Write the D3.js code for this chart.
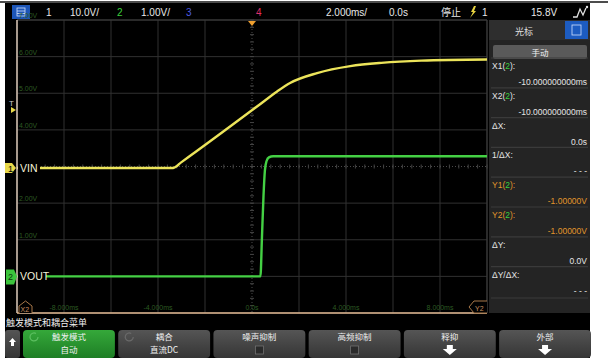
<!DOCTYPE html>
<html>
<head>
<meta charset="utf-8">
<script src="https://cdn.jsdelivr.net/npm/d3@7"></script>
<style>
  body { margin: 0; background: #fff; }
  svg { display: block; }
  text { font-family: "Liberation Sans", "DejaVu Sans", sans-serif; }
  .cjk { font-family: "Noto Sans CJK SC", sans-serif; }
</style>
</head>
<body>
<svg id="chart" width="610" height="358"></svg>
<script>
// channel 1 (VIN), time in ms, volts
const vinTime = [-10, -3.35, -3.0, 0.3, 1.07, 1.62, 2.77, 4.18, 5.5, 7.2, 10];
const vinVolt = [0, 0, 1.6, 17.2, 20.9, 23.2, 25.9, 27.8, 28.7, 29.3, 29.6];
// channel 2 (VOUT)
const voutTime = [-10, 0.36, 0.42, 0.49, 0.55, 0.62, 0.72, 0.9, 10];
const voutVolt = [0, 0, 1.0, 2.2, 2.9, 3.15, 3.25, 3.28, 3.28];

const timeTicks = [-8, -4, 0, 4, 8];
const timeTickLabels = ["-8.000ms", "-4.000ms", "0.0s", "4.000ms", "8.000ms"];
const voltTicks = [7, 6, 5, 4, 2, 1];
const voltTickLabels = ["7.00V", "6.00V", "5.00V", "4.00V", "2.00V", "1.00V"];

const cursorLabels = ["X1(2):", "X2(2):", "ΔX:", "1/ΔX:", "Y1(2):", "Y2(2):", "ΔY:", "ΔY/ΔX:"];
const cursorValues = ["-10.000000000ms", "-10.000000000ms", "0.0s", "- - -", "-1.00000V", "-1.00000V", "0.0V", "- - -"];

const menuTitles = ["触发模式", "耦合", "噪声抑制", "高频抑制", "释抑", "外部"];
const menuSubs = ["自动", "直流DC", "box", "box", "arrow", "arrow"];

const svg = d3.select('#chart');

// scope frame
svg.append('line').attr('x1', 0).attr('x2', 608).attr('y1', 2).attr('y2', 2)
  .attr('stroke', '#111').attr('stroke-width', 1.5);
svg.append('rect').attr('x', 5).attr('y', 3).attr('width', 585).attr('height', 355).attr('fill', '#000');

// scales
const x = d3.scaleLinear().domain([-10, 10]).range([17, 487]);
const y1 = d3.scaleLinear().domain([-39.6, 40.4]).range([313, 20]);
const y2 = d3.scaleLinear().domain([-1, 7]).range([313, 20]);

// ---- top status bar
const topBar = svg.append('g');
topBar.append('rect').attr('x', 12).attr('y', 5).attr('width', 18).attr('height', 14).attr('fill', '#1d56b8');
topBar.append('rect').attr('x', 17).attr('y', 8).attr('width', 8).attr('height', 8)
  .attr('fill', 'none').attr('stroke', '#cfe0ff').attr('stroke-width', 0.8);
topBar.append('line').attr('x1', 17).attr('x2', 25).attr('y1', 11).attr('y2', 11).attr('stroke', '#cfe0ff').attr('stroke-width', 0.8);
topBar.append('line').attr('x1', 17).attr('x2', 25).attr('y1', 13.5).attr('y2', 13.5).attr('stroke', '#cfe0ff').attr('stroke-width', 0.8);

const topItems = [
  { t: '1', x: 46, c: '#e8e8e8' },
  { t: '10.0V/', x: 70, c: '#e8e8e8' },
  { t: '2', x: 117, c: '#3cd03c' },
  { t: '1.00V/', x: 141, c: '#e8e8e8' },
  { t: '3', x: 186, c: '#4c5ce0' },
  { t: '4', x: 256, c: '#e0306a' },
  { t: '2.000ms/', x: 326, c: '#e8e8e8' },
  { t: '0.0s', x: 389, c: '#e8e8e8' },
  { t: '1', x: 482, c: '#e8e8e8' },
  { t: '15.8V', x: 531, c: '#e8e8e8' },
];
topBar.selectAll('text.item').data(topItems).join('text')
  .attr('class', 'item')
  .attr('x', (d) => d.x).attr('y', 16)
  .attr('font-size', 10).attr('fill', (d) => d.c)
  .text((d) => d.t);
topBar.append('text').attr('class', 'cjk').attr('x', 441).attr('y', 16)
  .attr('font-size', 10).attr('fill', '#e8e8e8').text('停止');
// trigger edge symbol
topBar.append('path').attr('d', 'M470,18 L473,12 L471,12 L474,6 L476,6 L474,11 L476,11 Z').attr('fill', '#e8d440');
// waveform icon
topBar.append('path').attr('d', 'M573,17 L577,17 L580,9 L583,15 L586,8')
  .attr('fill', 'none').attr('stroke', '#e0e0e0').attr('stroke-width', 1.3);
topBar.append('circle').attr('cx', 587).attr('cy', 7).attr('r', 1.2).attr('fill', '#e0e0e0');

// ---- graticule
const grid = svg.append('g');
const vDivs = d3.range(-10, 10.001, 2);
const hDivs = d3.range(-1, 7.001, 1);
grid.selectAll('line.v').data(vDivs.filter((d) => d !== 0)).join('line')
  .attr('x1', (d) => x(d)).attr('x2', (d) => x(d))
  .attr('y1', 20).attr('y2', 313)
  .attr('stroke', '#303030').attr('stroke-width', 1);
grid.selectAll('line.h').data(hDivs.filter((d) => d !== 3)).join('line')
  .attr('x1', 17).attr('x2', 487)
  .attr('y1', (d) => y2(d)).attr('y2', (d) => y2(d))
  .attr('stroke', '#303030').attr('stroke-width', 1);
// dotted centre lines with minor ticks
grid.append('line').attr('x1', x(0)).attr('x2', x(0)).attr('y1', 20).attr('y2', 313)
  .attr('stroke', '#4a4a4a').attr('stroke-dasharray', '1,2');
grid.append('line').attr('x1', 17).attr('x2', 487).attr('y1', y2(3)).attr('y2', y2(3))
  .attr('stroke', '#4a4a4a').attr('stroke-dasharray', '1,2');
grid.selectAll('line.mx').data(d3.range(-10, 10.001, 0.4)).join('line')
  .attr('x1', (d) => x(d)).attr('x2', (d) => x(d))
  .attr('y1', y2(3) - 2).attr('y2', y2(3) + 2)
  .attr('stroke', '#444');
grid.selectAll('line.my').data(d3.range(-1, 7.001, 0.2)).join('line')
  .attr('x1', x(0) - 2).attr('x2', x(0) + 2)
  .attr('y1', (d) => y2(d)).attr('y2', (d) => y2(d))
  .attr('stroke', '#444');
grid.append('line').attr('x1', 17).attr('x2', 487).attr('y1', 20).attr('y2', 20).attr('stroke', '#3c3c3c');
grid.append('line').attr('x1', 487).attr('x2', 487).attr('y1', 20).attr('y2', 313).attr('stroke', '#3c3c3c');

// faint scale labels
grid.selectAll('text.tt').data(timeTicks).join('text')
  .attr('x', (d) => x(d)).attr('y', 310)
  .attr('text-anchor', 'middle').attr('font-size', 7).attr('fill', '#2c5a22')
  .text((d, i) => timeTickLabels[i]);
grid.selectAll('text.vt').data(voltTicks).join('text')
  .attr('x', 19).attr('y', (d) => y2(d) - 2)
  .attr('font-size', 7).attr('fill', '#2c5a22')
  .text((d, i) => voltTickLabels[i]);

// ---- traces
svg.append('clipPath').attr('id', 'plot').append('rect')
  .attr('x', 17).attr('y', 20).attr('width', 470).attr('height', 293);
const traces = svg.append('g').attr('clip-path', 'url(#plot)');

const vinData = vinTime.map((t, i) => ({ t, v: vinVolt[i] }));
const voutData = voutTime.map((t, i) => ({ t, v: voutVolt[i] }));

traces.append('path').datum(vinData)
  .attr('fill', 'none').attr('stroke', '#ece45a').attr('stroke-width', 2.4)
  .attr('stroke-linejoin', 'round')
  .attr('d', d3.line().curve(d3.curveMonotoneX).x((d) => x(d.t)).y((d) => y1(d.v)));
traces.append('path').datum(voutData)
  .attr('fill', 'none').attr('stroke', '#44d044').attr('stroke-width', 2.4)
  .attr('d', d3.line().curve(d3.curveMonotoneX).x((d) => x(d.t)).y((d) => y2(d.v)));

// cursor lines (X1/X2 at -10ms, Y1/Y2 at -1V)
svg.append('line').attr('x1', x(-10)).attr('x2', x(-10)).attr('y1', 20).attr('y2', 313)
  .attr('stroke', '#e6d2c0').attr('stroke-width', 1.4);
svg.append('line').attr('x1', 17).attr('x2', 487).attr('y1', y2(-1)).attr('y2', y2(-1))
  .attr('stroke', '#e2b892').attr('stroke-width', 1.4);

// channel labels
svg.append('rect').attr('x', 18).attr('y', y1(0) - 6).attr('width', 22).attr('height', 12).attr('fill', '#000');
svg.append('text').attr('x', 20).attr('y', y1(0) + 4).attr('font-size', 10.5).attr('fill', '#f4f0d8').text('VIN');
svg.append('rect').attr('x', 18).attr('y', y2(0) - 6).attr('width', 28).attr('height', 12).attr('fill', '#000');
svg.append('text').attr('x', 20).attr('y', y2(0) + 4).attr('font-size', 10.5).attr('fill', '#f4f0d8').text('VOUT');

// ground markers
const g1 = y1(0);
svg.append('path').attr('d', `M5,${g1 - 5} L12,${g1 - 5} L16,${g1} L12,${g1 + 5} L5,${g1 + 5} Z`).attr('fill', '#e8d84a');
svg.append('text').attr('x', 8).attr('y', g1 + 4).attr('font-size', 9).attr('fill', '#000').text('1');
const g2 = y2(0);
svg.append('path').attr('d', `M6,${g2 - 7} L14,${g2 - 7} L17,${g2} L14,${g2 + 8} L6,${g2 + 8} Z`).attr('fill', '#3cc43c');
svg.append('text').attr('x', 8).attr('y', g2 + 4).attr('font-size', 9).attr('fill', '#0a3a0a').text('2');

// trigger markers
const trig = y1(15.8);
svg.append('text').attr('x', 9).attr('y', trig - 4).attr('font-size', 8).attr('fill', '#c8c8c8').text('T');
svg.append('path').attr('d', `M11,${trig - 3} L16,${trig} L11,${trig + 3} Z`).attr('fill', '#e8d84a');
svg.append('path').attr('d', `M${x(0) - 4},21 L${x(0) + 4},21 L${x(0)},26 Z`).attr('fill', '#f0a030');

// X2 / Y2 cursor tags
svg.append('path').attr('d', 'M19,313 L19,306 L25.5,301 L32,306 L32,313')
  .attr('fill', '#000').attr('stroke', '#a8784a').attr('stroke-width', 1);
svg.append('text').attr('x', 20.5).attr('y', 312).attr('font-size', 7).attr('fill', '#c89060').text('X2');
svg.append('path').attr('d', 'M487,301 L474,301 L469,307 L474,313 L487,313')
  .attr('fill', '#000').attr('stroke', '#a8784a').attr('stroke-width', 1);
svg.append('text').attr('x', 475).attr('y', 311).attr('font-size', 7).attr('fill', '#c89060').text('Y2');

// ---- cursor panel
const panel = svg.append('g');
panel.append('rect').attr('x', 489).attr('y', 20).attr('width', 101).attr('height', 293).attr('fill', '#242424');
panel.append('rect').attr('x', 489).attr('y', 20).attr('width', 101).attr('height', 20).attr('fill', '#2e2e2e');
panel.append('text').attr('class', 'cjk').attr('x', 524).attr('y', 35).attr('text-anchor', 'middle')
  .attr('font-size', 9).attr('fill', '#e0e0e0').text('光标');
panel.append('rect').attr('x', 565).attr('y', 21).attr('width', 23).attr('height', 18).attr('fill', '#1d5cc0');
panel.append('rect').attr('x', 572).attr('y', 25).attr('width', 9).attr('height', 10)
  .attr('fill', 'none').attr('stroke', '#d0e0ff').attr('stroke-width', 0.8);
panel.append('rect').attr('x', 493).attr('y', 45).attr('width', 94).attr('height', 14).attr('rx', 2)
  .attr('fill', '#5a5a5a');
panel.append('text').attr('class', 'cjk').attr('x', 540).attr('y', 55.5).attr('text-anchor', 'middle')
  .attr('font-size', 8.5).attr('fill', '#f0f0f0').text('手动');

const rowStep = 29.8;
const rows = panel.selectAll('g.row').data(cursorLabels).join('g')
  .attr('transform', (d, i) => `translate(0,${66 + i * rowStep})`);
rows.append('line').attr('x1', 491).attr('x2', 588).attr('y1', -8).attr('y2', -8)
  .attr('stroke', '#3a3a3a').attr('stroke-width', 1.2);
rows.append('text').attr('x', 492).attr('y', 3).attr('font-size', 8.5)
  .attr('fill', (d) => (d.startsWith('Y') ? '#e0962c' : '#e4e4e4'))
  .each(function (d) {
    const t = d3.select(this);
    const m = d.match(/^(.*\()(2)(\):)$/);
    if (m) {
      t.append('tspan').text(m[1]);
      t.append('tspan').attr('fill', '#3cd03c').text(m[2]);
      t.append('tspan').text(m[3]);
    } else {
      t.text(d);
    }
  });
rows.append('text').attr('x', 587).attr('y', 19).attr('text-anchor', 'end').attr('font-size', 8.5)
  .attr('fill', (d, i) => (cursorLabels[i].startsWith('Y') ? '#e0962c' : '#e4e4e4'))
  .text((d, i) => cursorValues[i]);
panel.append('line').attr('x1', 491).attr('x2', 588).attr('y1', 298).attr('y2', 298)
  .attr('stroke', '#3a3a3a').attr('stroke-width', 1.2);

// ---- softkey menu
const menu = svg.append('g');
menu.append('text').attr('class', 'cjk').attr('x', 6).attr('y', 326)
  .attr('font-size', 9).attr('fill', '#f0f0f0').text('触发模式和耦合菜单');

const defs = svg.append('defs');
const gGrey = defs.append('linearGradient').attr('id', 'grey').attr('x1', 0).attr('x2', 0).attr('y1', 0).attr('y2', 1);
gGrey.append('stop').attr('offset', 0).attr('stop-color', '#555');
gGrey.append('stop').attr('offset', 1).attr('stop-color', '#353535');
const gGreen = defs.append('linearGradient').attr('id', 'green').attr('x1', 0).attr('x2', 0).attr('y1', 0).attr('y2', 1);
gGreen.append('stop').attr('offset', 0).attr('stop-color', '#35a83a');
gGreen.append('stop').attr('offset', 1).attr('stop-color', '#1e7e25');

// back button
menu.append('rect').attr('x', 5).attr('y', 330).attr('width', 15).attr('height', 28).attr('rx', 3).attr('fill', 'url(#grey)');
menu.append('path').attr('d', 'M12.5,338 L16,342 L14,342 L14,346 L11,346 L11,342 L9,342 Z').attr('fill', '#fff');

const btnX = d3.scaleBand().domain(d3.range(menuTitles.length)).range([23, 591]).paddingInner(0.035);
const btns = menu.selectAll('g.btn').data(menuTitles).join('g')
  .attr('transform', (d, i) => `translate(${btnX(i)},330)`);
btns.append('rect').attr('width', btnX.bandwidth()).attr('height', 28).attr('rx', 4)
  .attr('fill', (d, i) => (i === 0 ? 'url(#green)' : 'url(#grey)'));
btns.append('text').attr('class', 'cjk').attr('x', btnX.bandwidth() / 2).attr('y', 10)
  .attr('text-anchor', 'middle').attr('font-size', 8.5).attr('fill', '#f0f0f0').text((d) => d);
btns.each(function (d, i) {
  const b = d3.select(this);
  const cx = btnX.bandwidth() / 2;
  const sub = menuSubs[i];
  if (sub === 'box') {
    b.append('rect').attr('x', cx - 4).attr('y', 16).attr('width', 8).attr('height', 8)
      .attr('fill', '#2a2a2a').attr('stroke', '#707070').attr('stroke-width', 0.8);
  } else if (sub === 'arrow') {
    b.append('path').attr('d', `M${cx - 3},15 L${cx + 3},15 L${cx + 3},19 L${cx + 7},19 L${cx},25 L${cx - 7},19 L${cx - 3},19 Z`)
      .attr('fill', '#fff');
  } else {
    b.append('text').attr('class', 'cjk').attr('x', cx).attr('y', 23).attr('text-anchor', 'middle')
      .attr('font-size', 8.5).attr('fill', '#f0f0f0').text(sub);
  }
  if (i < 2) {
    b.append('path').attr('d', 'M13,3.5 A4,4 0 1 0 15,7')
      .attr('fill', 'none').attr('stroke', i === 0 ? '#5cbf60' : '#6a6a6a').attr('stroke-width', 1.2);
  }
});
</script>
</body>
</html>
